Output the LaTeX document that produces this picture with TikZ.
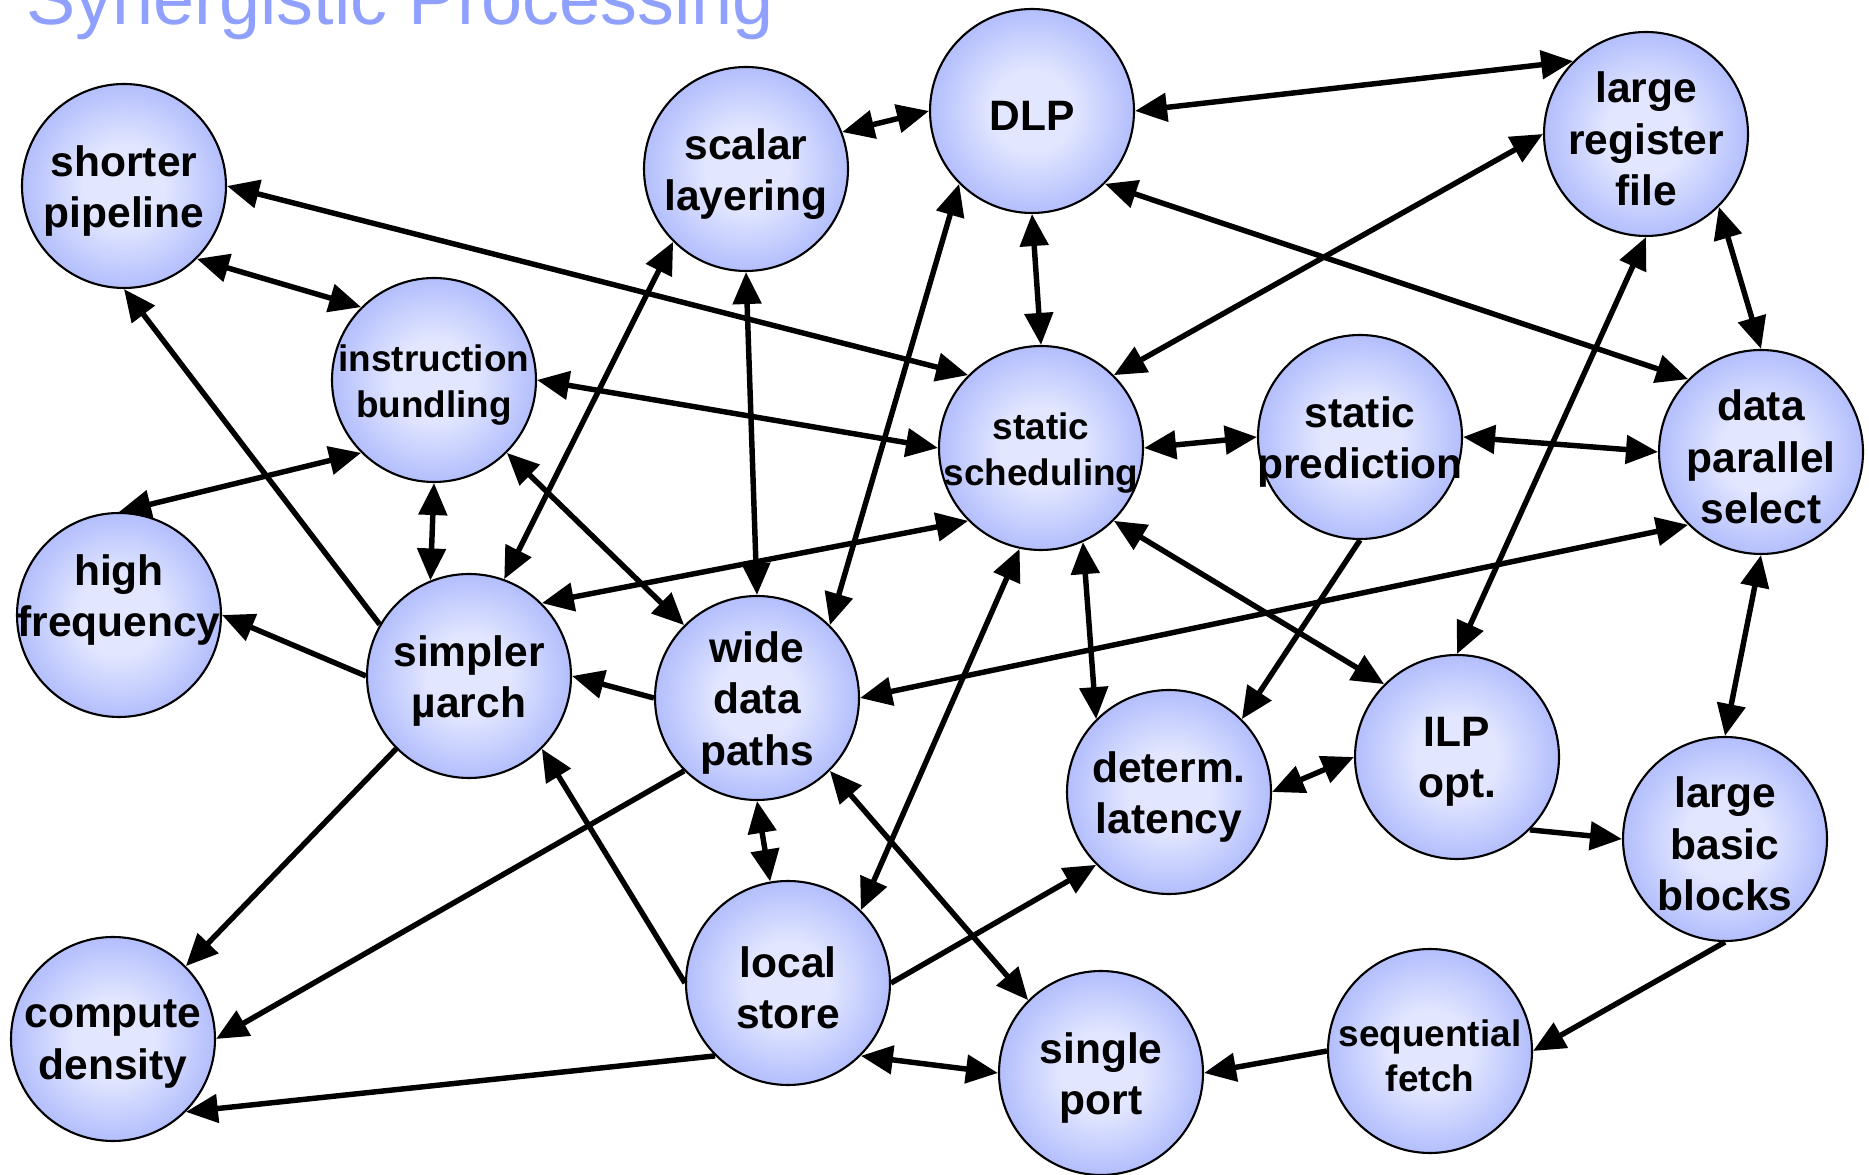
\documentclass[tikz,border=0pt]{standalone}
\usepackage{fontspec}
\setmainfont{Liberation Sans}
\usetikzlibrary{arrows.meta}

\definecolor{topiclight}{RGB}{226,230,255}
\definecolor{topicdark}{RGB}{138,156,250}
\definecolor{titleblue}{RGB}{143,160,255}
\pgfdeclareradialshading{topicshade}{\pgfpoint{0bp}{0bp}}{color(0bp)=(topiclight); color(10bp)=(topiclight); color(38bp)=(topicdark); color(50bp)=(topicdark)}

\tikzset{
  topic/.style={circle, draw, line width=0.6pt, minimum size=20.4mm, inner sep=0pt, shade, shading=topicshade},
  topictext/.style={font=\bfseries\fontsize{12.1}{14.6}\selectfont, align=center, inner sep=0pt, yshift=-1.4pt},
  smalltext/.style={topictext, font=\bfseries\fontsize{10.5}{12.9}\selectfont},
  link/.style={line width=1.55pt, >={Triangle[length=3.2mm,width=2.8mm]}},
}

\begin{document}
\begin{tikzpicture}[x=0.1mm, y=-0.1mm]
\useasboundingbox (0,0) rectangle (1869,1175);

% Title
\node[font=\fontsize{21}{25}\selectfont, text=titleblue, anchor=base west, inner sep=0pt] (title) at (26,25) {Synergistic Processing};

% Topics
\node[topic, label={[topictext]center:shorter\\pipeline}] (pipe) at (124,186) {};
\node[topic, label={[topictext]center:scalar\\layering}] (scalar) at (746,169) {};
\node[topic, label={[topictext]center:DLP}] (dlp) at (1032,111) {};
\node[topic, label={[topictext]center:large\\register\\file}] (regfile) at (1646,134) {};
\node[topic, label={[smalltext]center:instruction\\bundling}] (bundle) at (434,380) {};
\node[topic, label={[smalltext]center:static\\scheduling}] (sched) at (1041,448) {};
\node[topic, label={[topictext]center:static\\prediction}] (pred) at (1360,437) {};
\node[topic, label={[topictext]center:data\\parallel\\select}] (dpsel) at (1761,452) {};
\node[topic, label={[topictext, yshift=5.6pt]center:high\\frequency}] (freq) at (119,615) {};
\node[topic, label={[topictext]center:simpler\\µarch}] (uarch) at (469,676) {};
\node[topic, label={[topictext]center:wide\\data\\paths}] (wide) at (757,698) {};
\node[topic, label={[topictext]center:determ.\\latency}] (latency) at (1169,792) {};
\node[topic, label={[topictext]center:ILP\\opt.}] (ilp) at (1457,757) {};
\node[topic, label={[topictext]center:large\\basic\\blocks}] (bblocks) at (1725,839) {};
\node[topic, label={[topictext]center:compute\\density}] (density) at (113,1039) {};
\node[topic, label={[topictext]center:local\\store}] (lstore) at (788,983) {};
\node[topic, label={[topictext]center:single\\port}] (sport) at (1101,1073) {};
\node[topic, label={[smalltext]center:sequential\\fetch}] (fetch) at (1430,1051) {};

% Two-way links
\foreach \a/\b in {pipe.south east/bundle.north west, pipe.east/sched.north west,
    bundle.south west/freq.north, bundle.south/uarch.112, bundle.east/sched.west,
    bundle.south east/wide.north west, scalar.south west/uarch.70, scalar.21/dlp.west,
    scalar.south/wide.north, dlp.east/regfile.north west, dlp.south/sched.north,
    dlp.south west/wide.north east, dlp.south east/dpsel.north west,
    regfile.west/sched.north east, regfile.south/ilp.north, regfile.south east/dpsel.north,
    sched.east/pred.west, pred.east/dpsel.west, sched.south west/uarch.north east,
    sched.-66/latency.north west, sched.south east/ilp.north west,
    sched.-102/lstore.north east, dpsel.south west/wide.east, dpsel.south/bblocks.north,
    wide.south/lstore.100, wide.south east/sport.north west, lstore.south east/sport.west,
    latency.east/ilp.west}
    \draw[link,<->] (\a) -- (\b);

% One-way links
\foreach \a/\b in {uarch.150/pipe.south, uarch.west/freq.east, pred.south/latency.north east,
    wide.west/uarch.east, wide.south west/density.east, uarch.south west/density.north east,
    lstore.west/uarch.south east, lstore.south west/density.south east,
    lstore.east/latency.south west, ilp.south east/bblocks.west, bblocks.south/fetch.east,
    fetch.west/sport.east}
    \draw[link,->] (\a) -- (\b);
\end{tikzpicture}
\end{document}
